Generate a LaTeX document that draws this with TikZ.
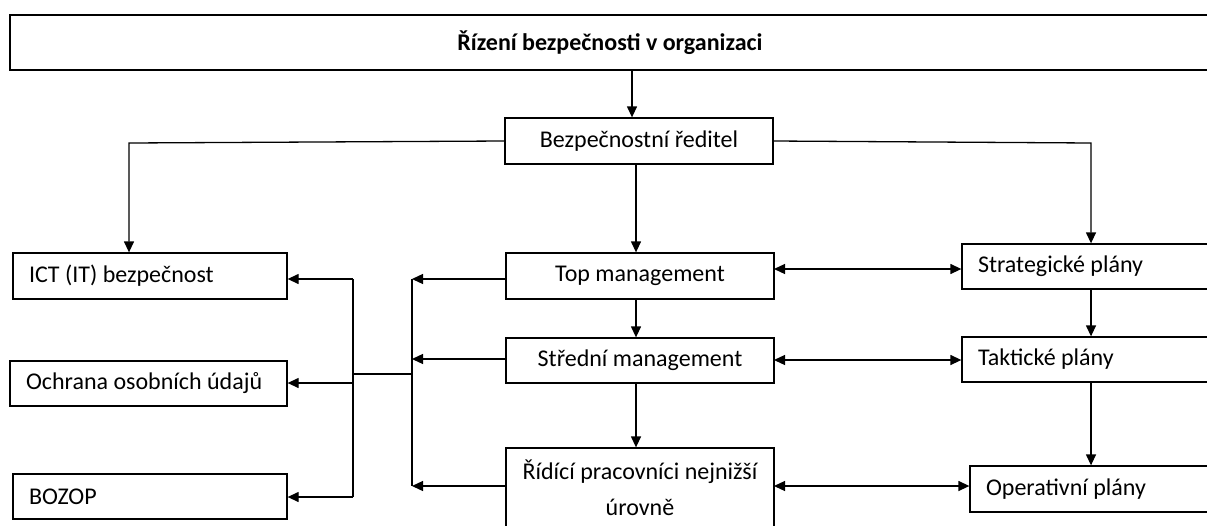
\documentclass[tikz,border=0pt]{standalone}
\usepackage{fontspec}
\setmainfont{Carlito}
\usetikzlibrary{arrows.meta}
\begin{document}
\begin{tikzpicture}[x=1pt,y=-1pt,
  box/.style={draw, line width=1.3pt, inner sep=0pt, font=\fontsize{24}{36}\selectfont},
  cbox/.style={box, align=center},
  lbox/.style={box, inner xsep=16pt},
  conn/.style={line width=1.3pt},
  arr/.style={conn, -{Triangle[length=11pt,width=10pt]}},
  darr/.style={conn, {Triangle[length=11pt,width=10pt]}-{Triangle[length=11pt,width=10pt]}}]
\useasboundingbox (0,0) rectangle (1207,525);
\clip (0,0) rectangle (1207,525);
% boxes
\node[cbox, minimum width=1230pt, minimum height=55pt] (title) at (625,42.5) {\makebox[1230pt]{\hspace*{-30pt}\bfseries Řízení bezpečnosti v organizaci}};
\node[cbox, minimum width=268pt, minimum height=46pt] (dir) at (639,141) {Bezpečnostní ředitel};
\node[cbox, minimum width=268pt, minimum height=46pt] (top) at (640,276) {Top management};
\node[cbox, minimum width=268pt, minimum height=45pt] (mid) at (640,360.5) {Střední management};
\node[cbox, minimum width=268pt, minimum height=80pt] (low) at (640,488) {Řídící pracovníci nejnižší\\úrovně};
\node[lbox, minimum width=274pt, minimum height=46pt] (ict) at (150,276) {\makebox[242pt][l]{ICT (IT) bezpečnost}};
\node[lbox, minimum width=277pt, minimum height=45pt] (och) at (148.5,383.5) {\makebox[245pt][l]{Ochrana osobních údajů}};
\node[lbox, minimum width=274pt, minimum height=45pt] (boz) at (150,496.5) {\makebox[242pt][l]{BOZOP}};
\node[lbox, minimum width=290pt, minimum height=45pt] (str) at (1107,266.5) {\makebox[258pt][l]{Strategické plány}};
\node[lbox, minimum width=290pt, minimum height=45pt] (tak) at (1107,359.5) {\makebox[258pt][l]{Taktické plány}};
\node[lbox, minimum width=282pt, minimum height=46pt] (ope) at (1111,489) {\makebox[250pt][l]{Operativní plány}};
% coordinates
\coordinate (t1) at (632,70);
\coordinate (c1) at (129,143);
\coordinate (c2) at (1091,143);
\coordinate (m) at (636,164);
\coordinate (bR1) at (412,279);
\coordinate (bR2) at (412,359);
\coordinate (bR3) at (412,486);
\coordinate (bRm) at (412,374);
\coordinate (bLm) at (353,374);
\coordinate (bL1) at (353,279);
\coordinate (bL2) at (353,383);
\coordinate (bL3) at (353,497);
\coordinate (h1) at (774,269);
\coordinate (h2) at (774,360);
\coordinate (h3) at (774,486);
% connectors
\draw[arr] (t1) -- (t1 |- dir.north);
\draw[arr] (dir.west) -- (c1) -- (c1 |- ict.north);
\draw[arr] (dir.east) -- (c2) -- (c2 |- str.north);
\draw[arr] (m) -- (m |- top.north);
\draw[arr] (m |- top.south) -- (m |- mid.north);
\draw[arr] (m |- mid.south) -- (m |- low.north);
\draw[arr] (c2 |- str.south) -- (c2 |- tak.north);
\draw[arr] (c2 |- tak.south) -- (c2 |- ope.north);
\draw[darr] (h1) -- (h1 -| str.west);
\draw[darr] (h2) -- (h2 -| tak.west);
\draw[darr] (h3) -- (h3 -| ope.west);
\draw[arr] (bR1 -| top.west) -- (bR1);
\draw[arr] (bR2 -| mid.west) -- (bR2);
\draw[arr] (bR3 -| low.west) -- (bR3);
\draw[conn] (bR1) -- (bR3);
\draw[conn] (bRm) -- (bLm);
\draw[conn] (bL1) -- (bL3);
\draw[arr] (bL1) -- (bL1 -| ict.east);
\draw[arr] (bL2) -- (bL2 -| och.east);
\draw[arr] (bL3) -- (bL3 -| boz.east);
\end{tikzpicture}
\end{document}
